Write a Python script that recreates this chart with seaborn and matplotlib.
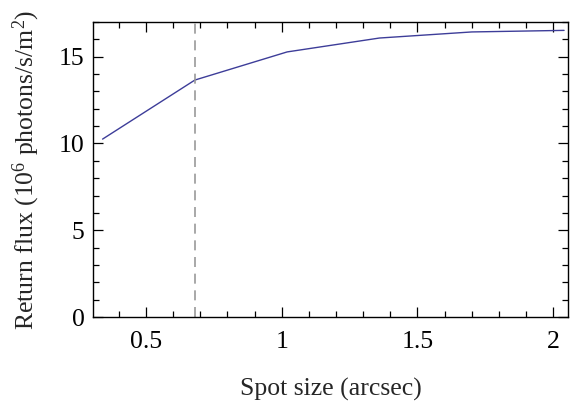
import matplotlib
matplotlib.use("Agg")
import matplotlib.pyplot as plt
import seaborn as sns
import pandas as pd
from matplotlib.ticker import MultipleLocator

spot_size = [0.34, 0.68, 1.02, 1.36, 1.70, 2.04]
return_flux = [10.25, 13.65, 15.27, 16.07, 16.42, 16.51]
marker_x = 0.68

sns.set_style("ticks")
plt.rcParams['font.family'] = ['Liberation Serif', 'DejaVu Serif']
plt.rcParams['mathtext.fontset'] = 'custom'
plt.rcParams['mathtext.rm'] = 'Liberation Serif'
plt.rcParams['mathtext.it'] = 'Liberation Serif:italic'

df = pd.DataFrame({"x": spot_size, "y": return_flux})

fig = plt.figure(figsize=(5.71, 4.05), dpi=100)
ax = fig.add_axes([0.163, 0.217, 0.832, 0.729])
sns.lineplot(data=df, x="x", y="y", ax=ax, color="#3d3d99", linewidth=1.0)
ax.axvline(marker_x, color="#999999", linestyle=(0, (6, 4)), linewidth=1.2)

ax.set_xlim(0.305, 2.055)
ax.set_ylim(0, 17.0)
ax.xaxis.set_minor_locator(MultipleLocator(0.1))
ax.yaxis.set_minor_locator(MultipleLocator(1))
ax.set_xticks([0.5, 1.0, 1.5, 2.0])
ax.set_xticklabels(["0.5", "1", "1.5", "2"])
ax.set_yticks([0, 5, 10, 15])
ax.set_yticklabels(["0", "5", "10", "15"])

for s in ax.spines.values():
    s.set_visible(True)
    s.set_linewidth(1.0)
    s.set_color("black")
ax.tick_params(which="both", direction="in", top=True, right=True, labelsize=18.5, colors="black", width=0.9)
ax.tick_params(which="major", length=7)
ax.tick_params(which="minor", length=4)
ax.tick_params(axis="x", which="major", pad=10)
ax.tick_params(axis="y", which="major", pad=6)

ax.set_xlabel("Spot size (arcsec)", fontsize=18.5, labelpad=18)
ax.set_ylabel(r"Return flux (10$^{6}$ photons/s/m$^{2}$)", fontsize=18.5, labelpad=12)

fig.savefig("out.png", dpi=100)
